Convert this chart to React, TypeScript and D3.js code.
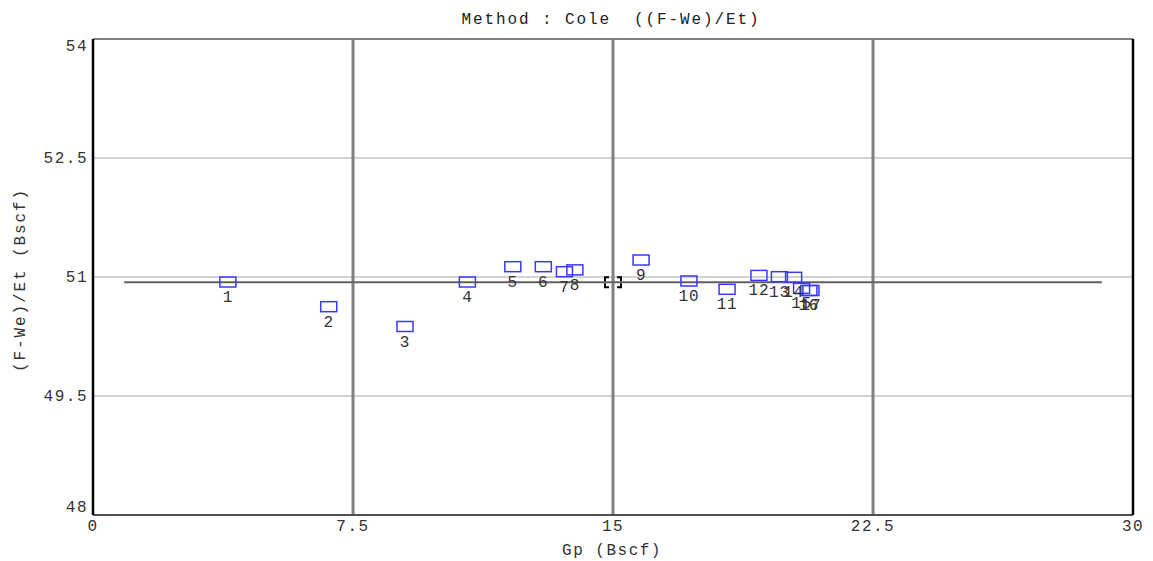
import React from "react";
import * as d3 from "d3";

const pointIds = ["1","2","3","4","5","6","7","8","9","10","11","12","13","14","15","16","17"];
const gpValues = [3.89, 6.8, 9.0, 10.8, 12.11, 12.99, 13.6, 13.9, 15.81, 17.19, 18.29, 19.21, 19.8, 20.21, 20.44, 20.65, 20.71];
const ratioValues = [50.937, 50.626, 50.376, 50.937, 51.13, 51.13, 51.067, 51.09, 51.214, 50.95, 50.845, 51.02, 51.004, 50.996, 50.857, 50.83, 50.83];
const xTicks = [0, 7.5, 15, 22.5, 30];
const yTicks = [48, 49.5, 51, 52.5, 54];
const fitGp = [0.9, 29.1];
const fitValue = 50.935;
const selectedGp = 15;

const W = 1153, H = 561;
const M = { left: 93, right: 1133, top: 39, bottom: 515 };
const FONT = "'Liberation Mono', 'DejaVu Sans Mono', monospace";

export default function App() {
  const x = d3.scaleLinear().domain([0, 30]).range([M.left, M.right]);
  const y = d3.scaleLinear().domain([48, 54]).range([M.bottom, M.top]);
  const bw = 16, bh = 10;
  const sx = x(selectedGp), sy = y(fitValue);
  const c = 4;
  const l = sx - bw / 2, r = sx + bw / 2, t = sy - bh / 2, b = sy + bh / 2;
  const corner = d3.path();
  corner.moveTo(l, t + c); corner.lineTo(l, t); corner.lineTo(l + c, t);
  corner.moveTo(r - c, t); corner.lineTo(r, t); corner.lineTo(r, t + c);
  corner.moveTo(r, b - c); corner.lineTo(r, b); corner.lineTo(r - c, b);
  corner.moveTo(l + c, b); corner.lineTo(l, b); corner.lineTo(l, b - c);
  const fitLine = d3.line<number>().x((d) => x(d)).y(() => y(fitValue))(fitGp) || "";

  return (
    <svg width={W} height={H} style={{ position: "absolute", left: 0, top: 0, background: "#fff" }} fontFamily={FONT}>
      <text x={611} y={24} textAnchor="middle" fontSize={16} letterSpacing={1.9} fill="#222" style={{ whiteSpace: "pre" }}>
        {"Method : Cole  ((F-We)/Et)"}
      </text>
      {/* horizontal grid */}
      {yTicks.filter((v) => v !== 48 && v !== 54).map((v) => (
        <line key={"hg" + v} x1={M.left} x2={M.right} y1={y(v)} y2={y(v)} stroke="#a8a8a8" strokeWidth={1.2} />
      ))}
      {/* vertical grid */}
      {xTicks.filter((v) => v !== 0 && v !== 30).map((v) => (
        <line key={"vg" + v} x1={x(v)} x2={x(v)} y1={M.top} y2={M.bottom} stroke="#808080" strokeWidth={3} />
      ))}
      {/* frame */}
      <line x1={M.left} x2={M.right} y1={M.top} y2={M.top} stroke="#808080" strokeWidth={2} />
      <line x1={M.left} x2={M.right} y1={M.bottom} y2={M.bottom} stroke="#505050" strokeWidth={2} />
      <line x1={M.left} x2={M.left} y1={M.top} y2={M.bottom} stroke="#000" strokeWidth={2.5} />
      <line x1={M.right} x2={M.right} y1={M.top} y2={M.bottom} stroke="#000" strokeWidth={2.5} />
      {/* fit line */}
      <path d={fitLine} stroke="#606060" strokeWidth={2} fill="none" />
      {/* selected marker */}
      <path d={corner.toString()} stroke="#000" strokeWidth={2} fill="none" />
      {/* points */}
      {gpValues.map((g, i) => (
        <rect key={"p" + i} x={x(g) - bw / 2} y={y(ratioValues[i]) - bh / 2} width={bw} height={bh}
          fill="none" stroke="#3838ff" strokeWidth={1.5} />
      ))}
      {gpValues.map((g, i) => (
        <text key={"l" + i} x={x(g)} y={y(ratioValues[i]) + 20} textAnchor="middle" fontSize={16} letterSpacing={0.8} fill="#333">
          {pointIds[i]}
        </text>
      ))}
      {/* y ticks */}
      {yTicks.map((v) => {
        const dy = v === 54 ? 12 : v === 48 ? -3 : 5;
        return (
          <text key={"yt" + v} x={88} y={y(v) + dy} textAnchor="end" fontSize={16} letterSpacing={1.5} fill="#333">
            {String(v)}
          </text>
        );
      })}
      {/* x ticks */}
      {xTicks.map((v) => (
        <text key={"xt" + v} x={x(v)} y={531} textAnchor="middle" fontSize={16} letterSpacing={1.5} fill="#333">
          {String(v)}
        </text>
      ))}
      <text x={612} y={555} textAnchor="middle" fontSize={16} letterSpacing={1.5} fill="#333" style={{ whiteSpace: "pre" }}>
        {"Gp (Bscf)"}
      </text>
      <text transform={`translate(25,${280}) rotate(-90)`} textAnchor="middle" fontSize={16} letterSpacing={1.9} fill="#333" style={{ whiteSpace: "pre" }}>
        {"(F-We)/Et (Bscf)"}
      </text>
    </svg>
  );
}
